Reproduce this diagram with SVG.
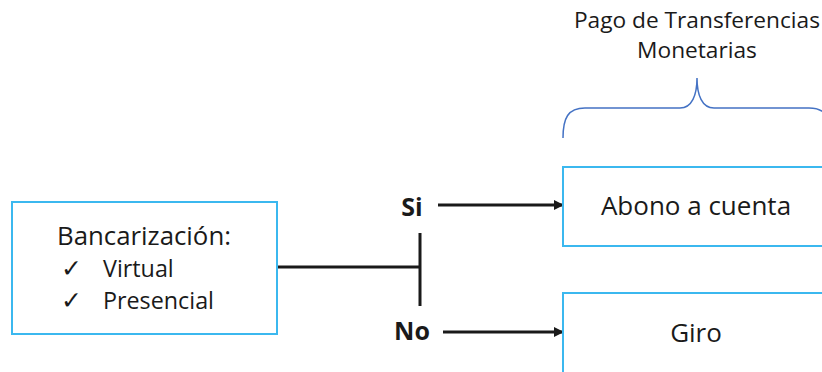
<svg xmlns="http://www.w3.org/2000/svg" width="822" height="372" viewBox="0 0 822 372">
<defs>
<style>
.box{fill:#fff;stroke:#3bb8ef;stroke-width:2}
.t{font-family:"Open Sans",Lato,sans-serif;fill:#1a1a1a}
.ck{font-family:"DejaVu Sans",sans-serif;fill:#1a1a1a}
.ln{stroke:#1a1a1a;stroke-width:3;fill:none}
.b{font-weight:bold}
</style>
<marker id="ah" markerWidth="10" markerHeight="10" refX="9" refY="5" orient="auto" markerUnits="userSpaceOnUse">
<path d="M0,0 L10,5 L0,10 Z" fill="#1a1a1a"/>
</marker>
</defs>
<rect width="822" height="372" fill="#fff"/>
<g id="title">
<text class="t" x="697" y="28" font-size="22.7" text-anchor="middle">Pago de Transferencias</text>
<text class="t" x="697" y="58" font-size="22.7" text-anchor="middle">Monetarias</text>
<path d="M563,138 C563,118 568,108 585,108 L680,108 C692,108 697,95 697,78 C697,95 702,108 714,108 L809,108 C826,108 831,118 831,138" fill="none" stroke="#4472c4" stroke-width="1.5"/>
</g>
<g id="connectors">
<path class="ln" d="M277,267 L420,267 M420,233 L420,306"/>
<path class="ln" d="M438,205 L563,205" marker-end="url(#ah)"/>
<path class="ln" d="M443,332 L563,332" marker-end="url(#ah)"/>
</g>
<g id="bancarizacion">
<rect class="box" x="12" y="202" width="265" height="132"/>
<text class="t" x="57" y="245" font-size="25.8">Bancarización:</text>
<text class="ck" x="61" y="277" font-size="25">✓</text>
<text class="t" x="103" y="277" font-size="23.3">Virtual</text>
<text class="ck" x="61" y="309" font-size="25">✓</text>
<text class="t" x="103" y="309" font-size="23.3">Presencial</text>
</g>
<g id="si"><text class="t b" x="412" y="216" font-size="25" text-anchor="middle">Si</text></g>
<g id="no"><text class="t b" x="412" y="340" font-size="25" text-anchor="middle">No</text></g>
<g id="abono">
<rect class="box" x="563" y="167" width="270" height="79"/>
<text class="t" x="696" y="215" font-size="26" text-anchor="middle">Abono a cuenta</text>
</g>
<g id="giro">
<rect class="box" x="563" y="293" width="270" height="90"/>
<text class="t" x="696" y="342" font-size="26" text-anchor="middle">Giro</text>
</g>
</svg>
